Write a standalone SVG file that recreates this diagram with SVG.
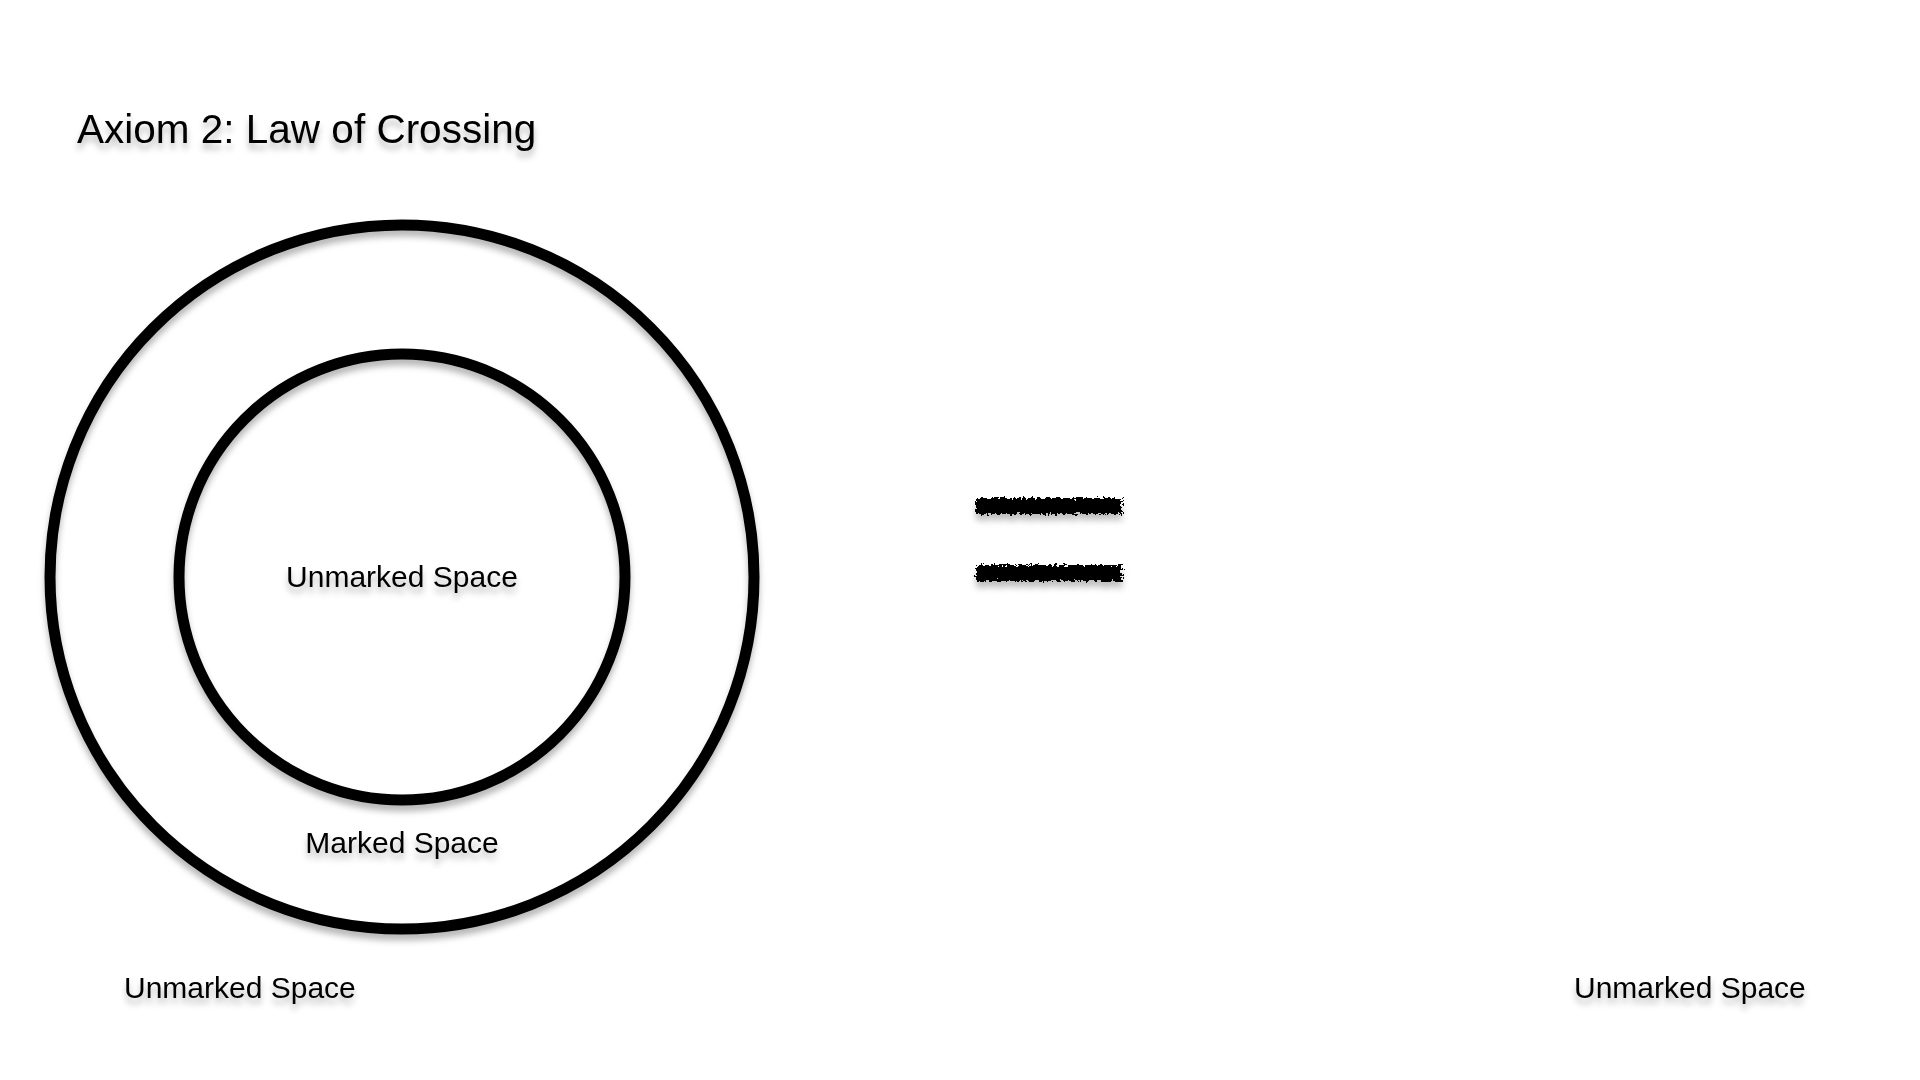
<svg xmlns="http://www.w3.org/2000/svg" width="1920" height="1080" viewBox="0 0 1920 1080">
  <defs>
    <filter id="shadow" x="-10%" y="-10%" width="120%" height="140%">
      <feDropShadow dx="0" dy="6" stdDeviation="3" flood-color="#000" flood-opacity="0.28"/>
    </filter>
    <filter id="chalk" x="-5%" y="-60%" width="110%" height="260%">
      <feTurbulence type="fractalNoise" baseFrequency="0.35" numOctaves="2" seed="3" result="noise"/>
      <feDisplacementMap in="SourceGraphic" in2="noise" scale="8" xChannelSelector="R" yChannelSelector="G" result="rough"/>
      <feDropShadow in="rough" dx="0" dy="6" stdDeviation="3" flood-color="#000" flood-opacity="0.25"/>
    </filter>
    <style>
      .ring { fill: none; stroke: #000; stroke-width: 11; filter: url(#shadow); }
      .label { font-family: "Liberation Sans", Arial, Helvetica, sans-serif; font-size: 30px; fill: #000; filter: url(#shadow); }
      .title { font-family: "Liberation Sans", Arial, Helvetica, sans-serif; font-size: 40.5px; fill: #000; filter: url(#shadow); }
      .bar { fill: #000; filter: url(#chalk); }
    </style>
  </defs>
  <rect width="1920" height="1080" fill="#fff"/>

  <g id="title">
    <text class="title" x="77" y="143">Axiom 2: Law of Crossing</text>
  </g>

  <g id="outer-circle">
    <circle class="ring" cx="402" cy="577" r="352"/>
    <text class="label" x="402" y="853" text-anchor="middle">Marked Space</text>
  </g>

  <g id="inner-circle">
    <circle class="ring" cx="402" cy="577" r="223"/>
    <text class="label" x="402" y="587" text-anchor="middle">Unmarked Space</text>
  </g>

  <g id="left-unmarked">
    <text class="label" x="124" y="998">Unmarked Space</text>
  </g>

  <g id="equals">
    <rect class="bar" x="976" y="498" width="146" height="16"/>
    <rect class="bar" x="976" y="565" width="146" height="16"/>
  </g>

  <g id="right-unmarked">
    <text class="label" x="1574" y="998">Unmarked Space</text>
  </g>

  <g id="connectors"></g>
</svg>
